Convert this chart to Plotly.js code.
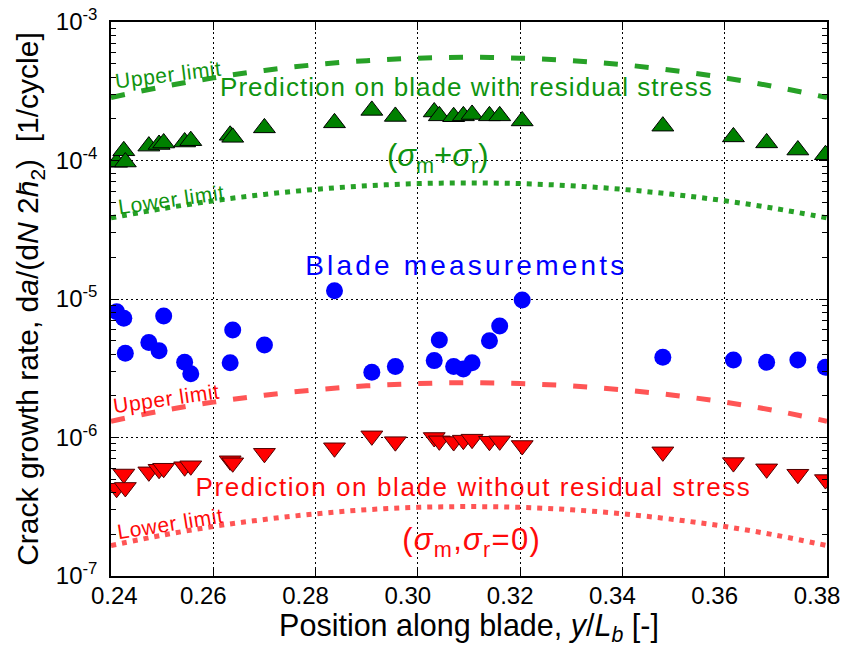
<!DOCTYPE html>
<html>
<head>
<meta charset="utf-8">
<script src="https://cdn.plot.ly/plotly-3.0.1.min.js"></script>
<style>
  html, body { margin: 0; padding: 0; background: #fff; }
  g.annotation[data-index="1"] text { letter-spacing: 1.05px; }
  g.annotation[data-index="6"] text { letter-spacing: 1.6px; }
  g.annotation[data-index="4"] text { letter-spacing: 3.2px; }
  g.annotation[data-index="7"] text { letter-spacing: 1.3px; }
  g.annotation[data-index="0"] text, g.annotation[data-index="3"] text,
  g.annotation[data-index="5"] text, g.annotation[data-index="8"] text { letter-spacing: 0.6px; }
</style>
</head>
<body>
<div id="chart" style="width:846px;height:647px;"></div>
<script>
// Measurement positions along blade (y/L_b)
const position = [0.2411, 0.2425, 0.2428, 0.2474, 0.2494, 0.2503, 0.2544, 0.2556, 0.2633, 0.2638, 0.2700, 0.2837, 0.2910, 0.2956, 0.3032, 0.3042, 0.3070, 0.3089, 0.3106, 0.3140, 0.3160, 0.3204, 0.3479, 0.3617, 0.3682, 0.3743, 0.3797];
// Prediction with residual stress (green triangles)
const predWithResidual = [9.7e-5, 1.175e-4, 9.75e-5, 1.27e-4, 1.305e-4, 1.337e-4, 1.36e-4, 1.39e-4, 1.52e-4, 1.47e-4, 1.72e-4, 1.87e-4, 2.30e-4, 2.08e-4, 2.24e-4, 2.10e-4, 2.07e-4, 2.10e-4, 2.15e-4, 2.10e-4, 2.10e-4, 1.93e-4, 1.77e-4, 1.48e-4, 1.34e-4, 1.19e-4, 1.10e-4];
// Blade measurements (blue circles)
const bladeMeasured = [8.09e-6, 7.26e-6, 4.06e-6, 4.86e-6, 4.23e-6, 7.53e-6, 3.49e-6, 2.89e-6, 3.47e-6, 5.97e-6, 4.66e-6, 1.148e-5, 2.96e-6, 3.25e-6, 3.59e-6, 5.06e-6, 3.25e-6, 3.12e-6, 3.47e-6, 5.00e-6, 6.38e-6, 9.84e-6, 3.79e-6, 3.63e-6, 3.49e-6, 3.63e-6, 3.21e-6];
// Prediction without residual stress (red triangles)
const predNoResidual = [4.30e-7, 5.45e-7, 4.36e-7, 5.65e-7, 5.90e-7, 6.00e-7, 6.15e-7, 6.25e-7, 6.79e-7, 6.57e-7, 7.69e-7, 8.43e-7, 1.028e-6, 9.33e-7, 1.0e-6, 9.46e-7, 9.35e-7, 9.57e-7, 9.73e-7, 9.40e-7, 9.46e-7, 8.75e-7, 7.88e-7, 6.59e-7, 5.94e-7, 5.43e-7, 4.97e-7];

// Limit curves
const limitX = [0.24, 0.25, 0.26, 0.27, 0.28, 0.29, 0.30, 0.31, 0.32, 0.33, 0.34, 0.35, 0.36, 0.37, 0.38];
const greenUpper = [2.85e-4, 3.40e-4, 3.95e-4, 4.47e-4, 4.92e-4, 5.26e-4, 5.48e-4, 5.56e-4, 5.48e-4, 5.26e-4, 4.92e-4, 4.47e-4, 3.95e-4, 3.40e-4, 2.85e-4];
const greenLower = [3.85e-5, 4.49e-5, 5.12e-5, 5.69e-5, 6.19e-5, 6.57e-5, 6.81e-5, 6.89e-5, 6.81e-5, 6.57e-5, 6.19e-5, 5.69e-5, 5.12e-5, 4.49e-5, 3.85e-5];
const redUpper = [1.31e-6, 1.56e-6, 1.80e-6, 2.02e-6, 2.21e-6, 2.36e-6, 2.45e-6, 2.49e-6, 2.45e-6, 2.36e-6, 2.21e-6, 2.02e-6, 1.80e-6, 1.56e-6, 1.31e-6];
const redLower = [1.66e-7, 1.97e-7, 2.28e-7, 2.56e-7, 2.81e-7, 3.01e-7, 3.13e-7, 3.17e-7, 3.13e-7, 3.01e-7, 2.81e-7, 2.56e-7, 2.28e-7, 1.97e-7, 1.66e-7];

const xTicks = [0.24, 0.26, 0.28, 0.30, 0.32, 0.34, 0.36, 0.38];
const xTickText = ['0.24', '0.26', '0.28', '0.30', '0.32', '0.34', '0.36', '0.38'];
const yTicks = [1e-7, 1e-6, 1e-5, 1e-4, 1e-3];
const yTickText = ['10<sup>-7</sup>', '10<sup>-6</sup>', '10<sup>-5</sup>', '10<sup>-4</sup>', '10<sup>-3</sup>'];
const yMinorTicks = [
  2e-7, 3e-7, 4e-7, 5e-7, 6e-7, 7e-7, 8e-7, 9e-7,
  2e-6, 3e-6, 4e-6, 5e-6, 6e-6, 7e-6, 8e-6, 9e-6,
  2e-5, 3e-5, 4e-5, 5e-5, 6e-5, 7e-5, 8e-5, 9e-5,
  2e-4, 3e-4, 4e-4, 5e-4, 6e-4, 7e-4, 8e-4, 9e-4
];

// label placement as in the original figure: first label nudged right, others nudged left
const NB = '\u00a0';
const xTickTextPlaced = xTickText.map((t, i) => i === 0 ? NB + t : t + NB + NB + NB);

const GREEN_LINE = '#27a127';
const GREEN_TEXT = '#109410';
const RED_LINE = '#ff5555';
const RED_TEXT = '#ff0a0a';
const FONT = 'Liberation Sans, Arial, sans-serif';
const X_RANGE = [0.2399999, 0.3800001];

const traces = [
  {x: limitX, y: greenUpper, mode: 'lines', line: {color: GREEN_LINE, width: 5, dash: '14px,17px', shape: 'spline'}},
  {x: limitX, y: greenLower, mode: 'lines', line: {color: GREEN_LINE, width: 5, dash: '5px,6px', shape: 'spline'}},
  {x: limitX, y: redUpper, mode: 'lines', line: {color: RED_LINE, width: 5, dash: '14px,17px', shape: 'spline'}},
  {x: limitX, y: redLower, mode: 'lines', line: {color: RED_LINE, width: 5, dash: '5px,6px', shape: 'spline'}},
  {x: position, y: predWithResidual, mode: 'markers',
   marker: {symbol: 'triangle-up', size: 19, color: '#008000', line: {color: '#000', width: 1}}},
  {x: position, y: bladeMeasured, mode: 'markers',
   marker: {symbol: 'circle', size: 17, color: '#0000ff', line: {width: 0}}},
  {x: position, y: predNoResidual, mode: 'markers',
   marker: {symbol: 'triangle-down', size: 19, color: '#ff0000', line: {color: '#500000', width: 1}}}
];

const L = 111, R = 827, T = 22, B = 576;
function px(v) { return (v - L) / (R - L); }
function py(v) { return (B - v) / (B - T); }

function ann(text, x, y, size, color, angle) {
  return {text: text, xref: 'paper', yref: 'paper', x: px(x), y: py(y),
          xanchor: 'center', yanchor: 'middle', showarrow: false,
          textangle: angle || 0, font: {family: FONT, size: size, color: color}};
}

const annotations = [
  ann('Upper limit', 168, 74, 21, GREEN_TEXT, -7),
  ann('Prediction on blade with residual stress', 466, 87, 26, GREEN_TEXT, 0),
  ann('(<i>σ</i><sub>m</sub>+<i>σ</i><sub>r</sub>)', 437, 158, 31, GREEN_TEXT, 0),
  ann('Lower limit', 171, 199, 21, GREEN_TEXT, -8),
  ann('Blade measurements', 466, 265, 28, '#0000ff', 0),
  ann('Upper limit', 166, 398, 21, RED_TEXT, -8),
  ann('Prediction on blade without residual stress', 473, 487, 26, RED_TEXT, 0),
  ann('(<i>σ</i><sub>m</sub>,<i>σ</i><sub>r</sub>=0)', 471, 542, 31, RED_TEXT, 0),
  ann('Lower limit', 170, 523, 21, RED_TEXT, -9)
];

const layout = {
  width: 846, height: 647,
  margin: {l: L, r: 846 - R, t: T, b: 647 - B},
  paper_bgcolor: '#fff', plot_bgcolor: '#fff',
  showlegend: false,
  font: {family: FONT, color: '#000'},
  xaxis: {
    range: X_RANGE, tickmode: 'array', tickvals: xTicks, ticktext: xTickTextPlaced,
    showline: true, linecolor: '#000', linewidth: 1.5, mirror: 'allticks',
    ticks: 'inside', ticklen: 8, tickcolor: '#000', ticklabelstandoff: -3, ticklabeloverflow: 'allow',
    showgrid: true, gridcolor: '#000', gridwidth: 1, griddash: '2px,3px',
    zeroline: false, tickfont: {size: 24, family: FONT, color: '#000'},
    title: {text: 'Position along blade, <i>y</i>/<i>L<sub>b</sub></i> [-]', font: {size: 30.5, family: FONT, color: '#000'}, standoff: 4},
    automargin: false
  },
  yaxis: {
    type: 'log', range: [-7, -3], tickmode: 'array', tickvals: yTicks, ticktext: yTickText,
    showline: true, linecolor: '#000', linewidth: 1.5, mirror: 'allticks',
    ticks: 'inside', ticklen: 8, tickcolor: '#000', ticklabelstandoff: 7,
    minor: {tickmode: 'array', tickvals: yMinorTicks, ticks: 'inside', ticklen: 5, tickcolor: '#000', showgrid: false},
    showgrid: true, gridcolor: '#000', gridwidth: 1, griddash: '2px,3px',
    zeroline: false, tickfont: {size: 24, family: FONT, color: '#000'},
    title: {text: '\u00a0\u00a0Crack growth rate, d<i>a</i>/(d<i>N</i> 2<i>h\u0304</i><sub>2</sub>)\u00a0\u00a0[1/cycle]', font: {size: 30, family: FONT, color: '#000'}, standoff: 8},
    automargin: false
  },
  annotations: annotations
};

Plotly.newPlot('chart', traces, layout, {displayModeBar: false, responsive: false});
</script>
</body>
</html>
